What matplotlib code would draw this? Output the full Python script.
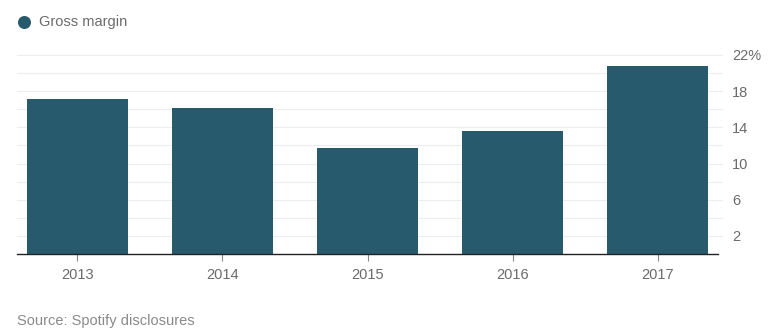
import matplotlib
matplotlib.use("Agg")
import matplotlib.pyplot as plt
import numpy as np

plt.rcParams['font.family'] = ['Liberation Sans', 'DejaVu Sans']

years = ["2013", "2014", "2015", "2016", "2017"]
margin = [17.1, 16.1, 11.7, 13.6, 20.8]  # gross margin, %
grid_vals = np.arange(2, 23, 2)
tick_vals = [2, 6, 10, 14, 18, 22]
tick_labels = ["2", "6", "10", "14", "18", "22%"]

bar_col = "#275a6c"
txt_col = "#6b6b6b"

W, H = 773, 332
fig = plt.figure(figsize=(W / 100, H / 100), dpi=100)
# axes box: x 17..718 px, y zero at 254 px, 22 at 55 px
y0, y22 = 254, 55
ax = fig.add_axes([17 / W, (H - y0) / H, (718 - 17) / W, (y0 - y22) / H])
ax.set_ylim(0, 22)
ax.set_xlim(-0.417, 4.417)

x = np.arange(len(years))
ax.bar(x, margin, width=0.70, color=bar_col, zorder=2)

for g in grid_vals:
    ax.axhline(g, color="#ededed", lw=0.8, zorder=1, clip_on=False, xmax=1.005)

ax.set_xticks(x)
ax.set_xticklabels(years)
ax.set_yticks(tick_vals)
ax.set_yticklabels(tick_labels)
ax.yaxis.tick_right()
ax.tick_params(axis="y", length=0, pad=10, labelsize=10.5, labelcolor=txt_col)
ax.tick_params(axis="x", length=5, width=0.8, color="#888888", pad=5,
               labelsize=10.5, labelcolor=txt_col)
for s in ["top", "left", "right"]:
    ax.spines[s].set_visible(False)
ax.spines["bottom"].set_color("#222222")
ax.spines["bottom"].set_linewidth(1.0)
ax.spines["bottom"].set_zorder(3)

# legend and source, in pixel coords
ax_leg = fig.add_axes([0, 0, 1, 1], facecolor="none")
ax_leg.set_xlim(0, W)
ax_leg.set_ylim(H, 0)
ax_leg.axis("off")
ax_leg.scatter([24], [22], s=70, color=bar_col)
ax_leg.text(39, 22, "Gross margin", fontsize=10.5, color=txt_col, va="center", ha="left")
ax_leg.text(17, 321, "Source: Spotify disclosures", fontsize=10.5, color="#8a8a8a",
            va="center", ha="left")

fig.savefig("out.png", dpi=100)
